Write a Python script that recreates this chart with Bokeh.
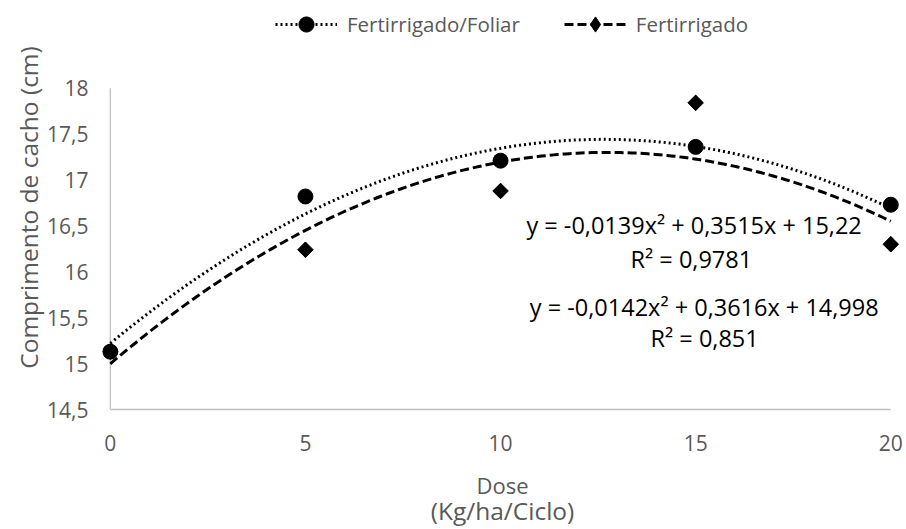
import numpy as np
from bokeh.plotting import figure
from bokeh.models import Legend, LegendItem, Label, FixedTicker, Range1d, LinearAxis
from bokeh.embed import file_html
from bokeh.resources import INLINE

dose = [0, 5, 10, 15, 20]
foliar = [15.13, 16.82, 17.21, 17.36, 16.73]
fert = [15.13, 16.24, 16.88, 17.84, 16.30]
coef_foliar = [-0.0139, 0.3515, 15.22]
coef_fert = [-0.0142, 0.3616, 14.998]
x_ticks = [0, 5, 10, 15, 20]
y_ticks = [14.5, 15, 15.5, 16, 16.5, 17, 17.5, 18]
eq_foliar = ["y = -0,0139x² + 0,3515x + 15,22", "R² = 0,9781"]
eq_fert = ["y = -0,0142x² + 0,3616x + 14,998", "R² = 0,851"]
x_title = ["Dose", "(Kg/ha/Ciclo)"]
y_title = "Comprimento de cacho (cm)"

FONT = "Open Sans"
GRAY = "#595959"
AXIS = "#bfbfbf"

p = figure(width=906, height=529, output_backend="svg", toolbar_location=None,
           x_range=Range1d(-0.2, 20.3), y_range=Range1d(14.5, 18.9),
           min_border_left=102, min_border_right=4, min_border_top=5, min_border_bottom=119)
p.outline_line_color = None
p.xgrid.visible = False
p.ygrid.visible = False

for ax in (p.xaxis[0], p.yaxis[0]):
    ax.major_tick_line_color = None
    ax.minor_tick_line_color = None
    ax.major_tick_out = 0
    ax.major_tick_in = 0
    ax.major_label_text_font = FONT
    ax.major_label_text_font_size = "21px"
    ax.major_label_text_color = GRAY
    ax.axis_label_text_font = FONT
    ax.axis_label_text_color = GRAY
    ax.axis_label_text_font_style = "normal"

p.xaxis.axis_label_text_font_size = "22px"
p.yaxis.axis_label_text_font_size = "24.5px"
p.xaxis.axis_line_color = AXIS
p.xaxis.axis_line_width = 1.3
p.xaxis.bounds = (x_ticks[0], x_ticks[-1])
p.yaxis.axis_line_color = None
p.yaxis.bounds = (y_ticks[0], y_ticks[-1])

p.xaxis.ticker = FixedTicker(ticks=x_ticks)
p.yaxis.ticker = FixedTicker(ticks=y_ticks)
p.xaxis.major_label_overrides = {t: str(t) for t in x_ticks}
p.yaxis.major_label_overrides = {t: (str(t).replace(".", ",") if t != int(t) else str(int(t))) for t in y_ticks}
p.xaxis.major_label_standoff = 25
p.yaxis.major_label_standoff = 14
p.xaxis.axis_label = x_title[0]
p.yaxis.axis_label = y_title
p.xaxis.axis_label_standoff = 16
p.yaxis.axis_label_standoff = -1

# second line of the x title, as a bare axis below the first
ax2 = LinearAxis(ticker=FixedTicker(ticks=[]), axis_line_color=None,
                 major_tick_line_color=None, minor_tick_line_color=None,
                 major_tick_out=0, major_tick_in=0, major_label_standoff=0,
                 major_label_text_font_size="1px",
                 axis_label=x_title[1], axis_label_standoff=-9,
                 axis_label_text_font=FONT, axis_label_text_font_size="24.5px",
                 axis_label_text_color=GRAY, axis_label_text_font_style="normal")
p.add_layout(ax2, "below")

# y axis line at x = 0, from first to last y tick
p.segment(x0=[x_ticks[0]], y0=[y_ticks[0]], x1=[x_ticks[0]], y1=[y_ticks[-1]],
          line_color=AXIS, line_width=1.3)

xs = np.linspace(0, 20, 200)
yf = np.polyval(coef_foliar, xs)
yr = np.polyval(coef_fert, xs)

l1 = p.line(xs, yf, line_color="black", line_width=3, line_dash="2 3")
l2 = p.line(xs, yr, line_color="black", line_width=3, line_dash="9 4")
s1 = p.scatter(dose, foliar, marker="circle", size=15, fill_color="black", line_color="black")
# diamond-shaped swatch for the legend, drawn under (and hidden by) the rotated squares
s2_leg = p.scatter(dose, fert, marker="diamond", size=15, fill_color="black", line_color="black")
s2 = p.scatter(dose, fert, marker="square", angle=np.pi / 4, size=11, fill_color="black", line_color="black")

legend = Legend(items=[LegendItem(label="Fertirrigado/Foliar", renderers=[l1, s1]),
                       LegendItem(label="Fertirrigado", renderers=[l2, s2_leg])],
                orientation="horizontal", location=(173, 366), padding=0, margin=0,
                label_text_font=FONT, label_text_font_size="20.5px", label_text_color=GRAY,
                glyph_width=62, glyph_height=38, label_standoff=10, spacing=44,
                border_line_color=None, background_fill_alpha=0)
p.add_layout(legend, "center")

for txt, x, y in [(eq_foliar[0], 14.96, 16.51), (eq_foliar[1], 14.89, 16.14),
                  (eq_fert[0], 15.22, 15.62), (eq_fert[1], 15.23, 15.28)]:
    p.add_layout(Label(x=x, y=y, text=txt, text_align="center", text_baseline="middle",
                       text_font=FONT, text_font_size="23.5px", text_color="black"))

open("out.html", "w").write(file_html(p, INLINE))
